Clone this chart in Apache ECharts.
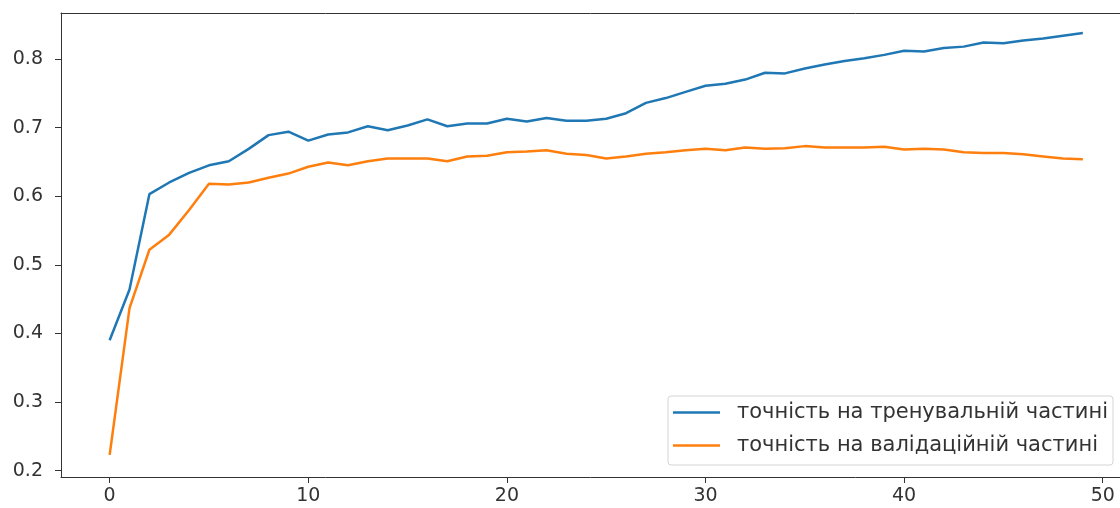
<!DOCTYPE html>
<html>
<head>
<meta charset="utf-8">
<script src="https://cdn.jsdelivr.net/npm/echarts@6/dist/echarts.min.js"></script>
<style>
  html, body { margin: 0; padding: 0; background: #fff; }
  #chart { width: 1120px; height: 508px; }
</style>
</head>
<body>
<div id="chart"></div>
<script>
// epochs 0..49
const epochs = [];
for (let i = 0; i < 50; i++) epochs.push(i);

const trainAcc = [
    0.390, 0.464, 0.603, 0.620, 0.634, 0.645, 0.651, 0.669, 0.689, 0.694,
    0.681, 0.690, 0.693, 0.702, 0.696, 0.703, 0.712, 0.702, 0.706, 0.706,
    0.713, 0.709, 0.714, 0.710, 0.710, 0.713, 0.721, 0.736, 0.743, 0.752,
    0.761, 0.764, 0.770, 0.780, 0.779, 0.786, 0.792, 0.797, 0.801, 0.806,
    0.812, 0.811, 0.816, 0.818, 0.824, 0.823, 0.827, 0.830, 0.834, 0.838
];
const valAcc = [
    0.223, 0.437, 0.522, 0.544, 0.580, 0.618, 0.617, 0.620, 0.627, 0.633,
    0.643, 0.649, 0.645, 0.651, 0.655, 0.655, 0.655, 0.651, 0.658, 0.659,
    0.664, 0.665, 0.667, 0.662, 0.660, 0.655, 0.658, 0.662, 0.664, 0.667,
    0.669, 0.667, 0.671, 0.669, 0.670, 0.673, 0.671, 0.671, 0.671, 0.672,
    0.668, 0.669, 0.668, 0.664, 0.663, 0.663, 0.661, 0.658, 0.655, 0.654
];
const seriesNames = ['точність на тренувальній частині', 'точність на валідаційній частині'];
const xTicks = [0, 10, 20, 30, 40, 50];
const yTicks = [0.2, 0.3, 0.4, 0.5, 0.6, 0.7, 0.8];

const font = 'DejaVu Sans';
const app = echarts.init(document.getElementById('chart'));

function pairs(ys) {
    return epochs.map((x, i) => [x, ys[i]]);
}

// the picture is cut at the right, so the x range stops a bit after 50
const xMin = -2.45, xMax = 50.87;

app.setOption({
    animation: false,
    textStyle: {fontFamily: font},
    grid: {left: 61, top: 13, right: 0, bottom: 31},
    legend: {
        orient: 'vertical',
        left: 668, top: 396,
        padding: [6, 5, 9, 5],
        itemWidth: 47, itemHeight: 2.5, itemGap: 12,
        icon: 'rect',
        backgroundColor: '#fff',
        borderColor: '#d4d4d4', borderWidth: 1, borderRadius: 3,
        textStyle: {fontFamily: font, fontSize: 21, color: '#333', padding: [0, 0, 0, 12]},
        data: seriesNames
    },
    xAxis: [{
        type: 'value',
        min: xMin, max: xMax,
        splitLine: {show: false},
        axisLine: {onZero: false, lineStyle: {color: '#333'}},
        axisTick: {customValues: xTicks, length: 6, lineStyle: {color: '#333'}},
        axisLabel: {customValues: xTicks, margin: 10, fontSize: 19, color: '#333', fontFamily: font}
    }, {
        // top spine
        type: 'value', position: 'top',
        min: xMin, max: xMax,
        splitLine: {show: false},
        axisLine: {show: true, onZero: false, lineStyle: {color: '#333'}},
        axisTick: {show: false},
        axisLabel: {show: false}
    }],
    yAxis: {
        type: 'value',
        min: 0.1908, max: 0.867,
        splitLine: {show: false},
        axisLine: {show: true, onZero: false, lineStyle: {color: '#333'}},
        axisTick: {show: true, customValues: yTicks, length: 6, lineStyle: {color: '#333'}},
        axisLabel: {customValues: yTicks, margin: 18, fontSize: 19, color: '#333', fontFamily: font,
            formatter: v => v.toFixed(1)}
    },
    series: [
        {
            name: seriesNames[0], type: 'line', data: pairs(trainAcc),
            showSymbol: false, symbol: 'none',
            lineStyle: {color: '#1f77b4', width: 2.5}, itemStyle: {color: '#1f77b4'}
        },
        {
            name: seriesNames[1], type: 'line', data: pairs(valAcc),
            showSymbol: false, symbol: 'none',
            lineStyle: {color: '#ff7f0e', width: 2.5}, itemStyle: {color: '#ff7f0e'}
        }
    ]
});
</script>
</body>
</html>
